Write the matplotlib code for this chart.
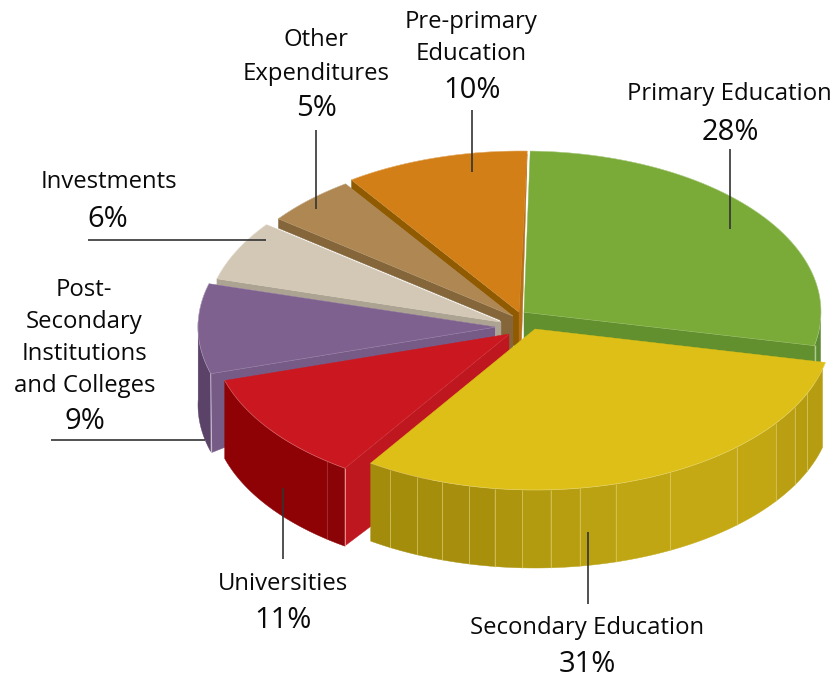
import numpy as np
import matplotlib
matplotlib.use("Agg")
import matplotlib.pyplot as plt
from matplotlib.patches import Polygon
from matplotlib.colors import to_rgb

# Budget shares, clockwise from the top of the pie
names = ["Primary Education", "Secondary Education", "Universities",
         "Post-\nSecondary\nInstitutions\nand Colleges", "Investments",
         "Other\nExpenditures", "Pre-primary\nEducation"]
values = [28, 31, 11, 9, 6, 5, 10]

# Exploded centre of each slice, in canvas units
centre_x = [524, 535, 509, 495, 503, 515, 521]
centre_y = [312, 329, 334, 327, 322, 316, 312]

top_colors = ["#7aab39", "#ddbf17", "#cb1820", "#7f6190", "#d3c8b5", "#ae8753", "#d37f17"]
cut_colors = ["#62902e", "#b39b10", "#bf171f", "#775b87", "#aca393", "#84663a", "#8f5a00"]
# Height of the cut face at the rim and of the column at the pie's axis
cut_depth = [22, 0, 78, 79, 6, 9.5, 9]
axis_depth = [34, 0, 88, 14, 15, 38, 38]
# Share of the cut edge taken up by the axis column on the back slices
column_share = [0, 0, 0, 0, 0.02, 0.055, 0.036]

RX, RY = 297, 161
START = 1.2
RIM = 78

# Outer wall facets of the large slice and the shade at each angle
yellow_facets = [213.6, 209.2, 203.4, 198.2, 192.8, 187.8, 182.5, 177, 171.3, 164.2,
                 152.9, 137.2, 125.8, 119, 113.6, 104.5]
shade_angles = [104, 120, 130, 150, 165, 180, 190, 213.6]
shade_colors = ["#b49b10", "#b69d10", "#c2a713", "#c5aa14", "#bca312", "#b39b10", "#a8900d", "#a38c0c"]

label_lines_y = [[94.5], [627.5], [583.5], [289.5, 321.5, 353.5, 385.5], [182.5], [40.5, 73.5], [22.5, 54.5]]
label_x = [[729.5], [587.5], [283], [84, 84, 84.5, 84.5], [108.5], [316, 316], [471.5, 471.5]]
pct_pos = [(730, 132.5), (587, 664.5), (283, 620.5), (85, 421.5), (108, 219.5), (316, 108.5), (472, 90.5)]
leaders = [((730, 149), (730, 229)), ((588, 532), (588, 604)), ((283, 488), (283, 559)),
           ((51, 440), (205, 440)), ((88, 240), (266, 240)), ((316, 130), (316, 209)),
           ((472, 110), (472, 172))]

plt.rcParams["font.family"] = ["Open Sans", "DejaVu Sans"]
fig = plt.figure(figsize=(8.36, 6.79), dpi=100)
ax = fig.add_axes([0, 0, 1, 1])
ax.set_xlim(0, 836)
ax.set_ylim(679, 0)
ax.axis("off")

bounds = START + np.cumsum([0] + values) * 3.6


def arc(cx, cy, a0, a1, n=60):
    t = np.radians(np.linspace(a0, a1, n))
    return np.column_stack([cx + RX * np.sin(t), cy - RY * np.cos(t)])


def face(pts, color, z):
    ax.add_patch(Polygon(pts, closed=True, facecolor=color, edgecolor=color, lw=0.3, zorder=z))


def wall(cx, cy, a0, a1, color, z, depth=RIM):
    top = arc(cx, cy, a0, a1, 40)
    bottom = top[::-1] + [0, depth]
    face(np.vstack([top, bottom]), color, z)


def seam(p, q, color, z, lw=0.7, alpha=0.8):
    ax.plot([p[0], q[0]], [p[1], q[1]], color=color, lw=lw, alpha=alpha, zorder=z,
            solid_capstyle="butt")


def shade_at(angle):
    rgb = np.array([to_rgb(c) for c in shade_colors])
    return tuple(np.interp(angle, shade_angles, rgb[:, i]) for i in range(3))


draw_order = [6, 5, 4, 3, 0, 2, 1]
for rank, i in enumerate(draw_order):
    z = 2 + rank * 5
    cx, cy = centre_x[i], centre_y[i]
    a0, a1 = bounds[i], bounds[i + 1]
    outer0 = arc(cx, cy, a0, a0, 1)[0]
    outer1 = arc(cx, cy, a1, a1, 1)[0]
    apex = np.array([cx - 2 if i in (4, 5, 6) else cx, cy], float)

    if i in (4, 5, 6):
        # Back slices: thin cut face on the left, with a column at the axis
        d = cut_depth[i]
        inner = apex + (outer0 - apex) * column_share[i]
        face([apex, outer0, outer0 + [0, d], inner + [0, d],
              inner + [0, axis_depth[i]], apex + [0, axis_depth[i]]], cut_colors[i], z)
        seam(apex, outer0, "#f0e6d0", z + 2, lw=0.5, alpha=0.6)
    if i == 6:
        # Sliver of the right cut face beside the next slice
        face([outer1 + [0, 3], apex, apex + [0, 31], apex + [2.5, 29], apex + [3.5, 0]], "#b5701a", z + 1)
    if i == 3:
        wall(cx, cy, a0, 272, "#5a4268", z)
        face([apex, outer0, outer0 + [1, cut_depth[i]], apex + [0, axis_depth[i]]], cut_colors[i], z + 1)
        seam(outer0, outer0 + [1, cut_depth[i]], "#d6cbdc", z + 2)
        seam(apex, outer0, "#cdbfd6", z + 3, lw=0.6)
    if i == 0:
        wall(cx, cy, 93, a1, "#5d8a35", z)
        face([apex, outer1, outer1 + [0, cut_depth[i]], apex + [0, axis_depth[i]]], cut_colors[i], z + 1)
        seam(outer1, outer1 + [0, cut_depth[i]], "#c4dca0", z + 2, lw=1.0)
        seam(apex, outer1, "#d5e6b8", z + 3, lw=0.6)
    if i == 2:
        wall(cx, cy, a0 + 4.2, a1, "#8e0206", z)
        wall(cx, cy, a0, a0 + 4.2, "#8a0307", z)
        face([apex, outer0, outer0 + [0, RIM], apex + [0, axis_depth[i]]], cut_colors[i], z + 1)
        seam(outer0, outer0 + [0, RIM], "#e8b0b0", z + 2)
        seam(apex, outer0, "#e07078", z + 3, lw=0.6)
        mid = arc(cx, cy, a0 + 4.2, a0 + 4.2, 1)[0]
        seam(mid, mid + [0, RIM], "#c05050", z + 2, lw=0.6, alpha=0.6)
    if i == 1:
        for f0, f1 in zip(yellow_facets[:-1], yellow_facets[1:]):
            wall(cx, cy, f1, f0, shade_at(0.5 * (f0 + f1)), z)
        for f in yellow_facets[1:-1]:
            p = arc(cx, cy, f, f, 1)[0]
            seam(p, p + [0, RIM], "#e0d070", z + 1, lw=0.7, alpha=0.65)

    face(np.vstack([apex, arc(cx, cy, a0, a1)]), top_colors[i], z + 4)
    rim_line = arc(cx, cy, a0, a1)
    ax.plot(rim_line[:, 0], rim_line[:, 1], color="#ffffff", lw=0.5, alpha=0.3, zorder=z + 4)

# Leader lines and captions
for (p, q) in leaders:
    ax.plot([p[0], q[0]], [p[1], q[1]], color="#333333", lw=1.2, zorder=60, solid_capstyle="butt")

for name, xs, ys, pos, v in zip(names, label_x, label_lines_y, pct_pos, values):
    for line, x, y in zip(name.split("\n"), xs, ys):
        ax.text(x, y, line, ha="center", va="center", fontsize=17.2, color="#0a0a0a", zorder=70)
    ax.text(pos[0], pos[1], f"{v}%", ha="center", va="center", fontsize=21, color="#0a0a0a", zorder=70)

fig.savefig("out.png", dpi=100, facecolor="white")
